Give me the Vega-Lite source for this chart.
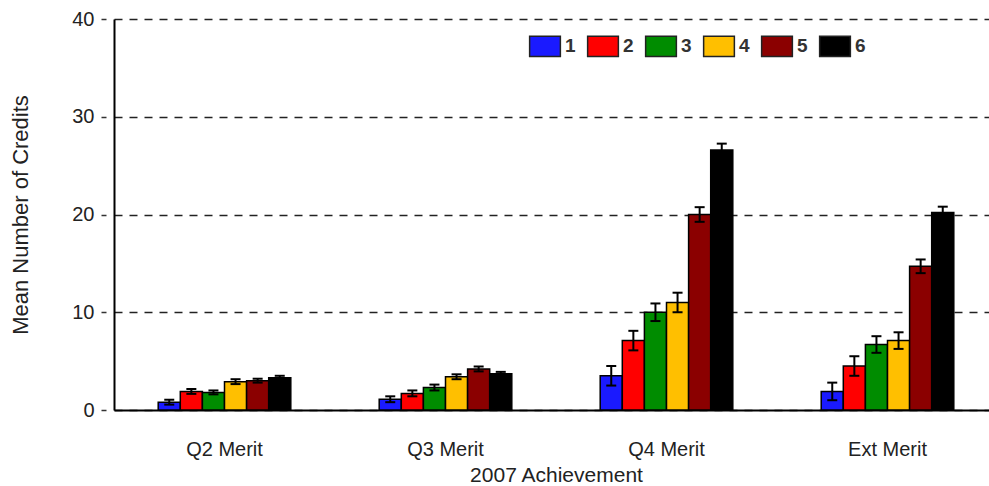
{
  "$schema": "https://vega.github.io/schema/vega-lite/v6.json",
  "width": 875,
  "height": 391,
  "autosize": "none",
  "padding": {"left": 114, "top": 19, "right": 0, "bottom": 76},
  "background": "white",
  "config": {"view": {"stroke": null}, "font": "Liberation Sans"},
  "data": {"values": [
    {"group": "Q2 Merit", "level": "1", "mean": 0.8, "lo": 0.55, "hi": 1.05},
    {"group": "Q2 Merit", "level": "2", "mean": 1.9, "lo": 1.65, "hi": 2.15},
    {"group": "Q2 Merit", "level": "3", "mean": 1.8, "lo": 1.6, "hi": 2.0},
    {"group": "Q2 Merit", "level": "4", "mean": 2.9, "lo": 2.65, "hi": 3.15},
    {"group": "Q2 Merit", "level": "5", "mean": 3.0, "lo": 2.8, "hi": 3.2},
    {"group": "Q2 Merit", "level": "6", "mean": 3.3, "lo": 3.1, "hi": 3.5},
    {"group": "Q3 Merit", "level": "1", "mean": 1.1, "lo": 0.8, "hi": 1.4},
    {"group": "Q3 Merit", "level": "2", "mean": 1.7, "lo": 1.4, "hi": 2.0},
    {"group": "Q3 Merit", "level": "3", "mean": 2.3, "lo": 2.0, "hi": 2.6},
    {"group": "Q3 Merit", "level": "4", "mean": 3.4, "lo": 3.15, "hi": 3.65},
    {"group": "Q3 Merit", "level": "5", "mean": 4.2, "lo": 3.95, "hi": 4.45},
    {"group": "Q3 Merit", "level": "6", "mean": 3.7, "lo": 3.5, "hi": 3.9},
    {"group": "Q4 Merit", "level": "1", "mean": 3.5, "lo": 2.5, "hi": 4.5},
    {"group": "Q4 Merit", "level": "2", "mean": 7.1, "lo": 6.1, "hi": 8.1},
    {"group": "Q4 Merit", "level": "3", "mean": 10.0, "lo": 9.1, "hi": 10.9},
    {"group": "Q4 Merit", "level": "4", "mean": 11.0, "lo": 10.0, "hi": 12.0},
    {"group": "Q4 Merit", "level": "5", "mean": 20.0, "lo": 19.25, "hi": 20.75},
    {"group": "Q4 Merit", "level": "6", "mean": 26.6, "lo": 25.95, "hi": 27.25},
    {"group": "Ext Merit", "level": "1", "mean": 1.9, "lo": 1.0, "hi": 2.8},
    {"group": "Ext Merit", "level": "2", "mean": 4.5, "lo": 3.5, "hi": 5.5},
    {"group": "Ext Merit", "level": "3", "mean": 6.7, "lo": 5.85, "hi": 7.55},
    {"group": "Ext Merit", "level": "4", "mean": 7.1, "lo": 6.25, "hi": 7.95},
    {"group": "Ext Merit", "level": "5", "mean": 14.7, "lo": 14.0, "hi": 15.4},
    {"group": "Ext Merit", "level": "6", "mean": 20.2, "lo": 19.6, "hi": 20.8}
  ]},
  "encoding": {
    "x": {
      "field": "group", "type": "nominal",
      "sort": ["Q2 Merit", "Q3 Merit", "Q4 Merit", "Ext Merit"],
      "scale": {"range": [0, 884], "paddingInner": 0.4, "paddingOuter": 0.2},
      "axis": {
        "title": "2007 Achievement", "labelAngle": 0, "ticks": false,
        "domainColor": "black", "domainWidth": 2,
        "labelFontSize": 20, "labelColor": "#222", "labelPadding": 29,
        "titleFontSize": 21, "titleFontWeight": "normal", "titleColor": "#222", "titlePadding": 5
      }
    },
    "xOffset": {"field": "level", "type": "nominal", "scale": {"paddingInner": 0, "paddingOuter": 0}}
  },
  "layer": [
    {
      "mark": {"type": "bar", "stroke": "black", "strokeWidth": 1.5},
      "encoding": {
        "y": {
          "field": "mean", "type": "quantitative",
          "scale": {"domain": [0, 40], "nice": false},
          "axis": {
            "title": "Mean Number of Credits", "values": [0, 10, 20, 30, 40],
            "domainColor": "black", "domainWidth": 2,
            "grid": true, "gridDash": [8, 7], "gridColor": "#222", "gridWidth": 1.6,
            "tickSize": 13, "tickColor": "#333", "tickWidth": 1.5, "tickDash": [0, 8, 5, 100],
            "labelFontSize": 20, "labelColor": "#222", "labelPadding": 7,
            "titleFontSize": 22, "titleFontWeight": "normal", "titleColor": "#222", "titlePadding": 39
          }
        },
        "color": {
          "field": "level", "type": "nominal",
          "scale": {"domain": ["1", "2", "3", "4", "5", "6"], "range": ["#1a1aff", "#ff0000", "#008c00", "#ffbf00", "#8b0000", "#000000"]},
          "legend": {
            "title": null, "orient": "none", "direction": "horizontal",
            "legendX": 420, "legendY": 16,
            "symbolType": "M-1.5,-1H1.5V1H-1.5Z", "symbolSize": 420,
            "symbolStrokeColor": "#222", "symbolStrokeWidth": 1.5, "symbolOpacity": 1,
            "labelFontSize": 19, "labelFontWeight": "bold", "labelColor": "#333",
            "labelOffset": 9, "columnPadding": 8
          }
        }
      }
    },
    {
      "mark": {"type": "rule", "strokeWidth": 2, "color": "black"},
      "encoding": {
        "y": {"field": "lo", "type": "quantitative"},
        "y2": {"field": "hi"}
      }
    },
    {
      "mark": {"type": "tick", "thickness": 2, "size": 10, "color": "black", "opacity": 1},
      "encoding": {"y": {"field": "lo", "type": "quantitative"}}
    },
    {
      "mark": {"type": "tick", "thickness": 2, "size": 10, "color": "black", "opacity": 1},
      "encoding": {"y": {"field": "hi", "type": "quantitative"}}
    }
  ]
}
